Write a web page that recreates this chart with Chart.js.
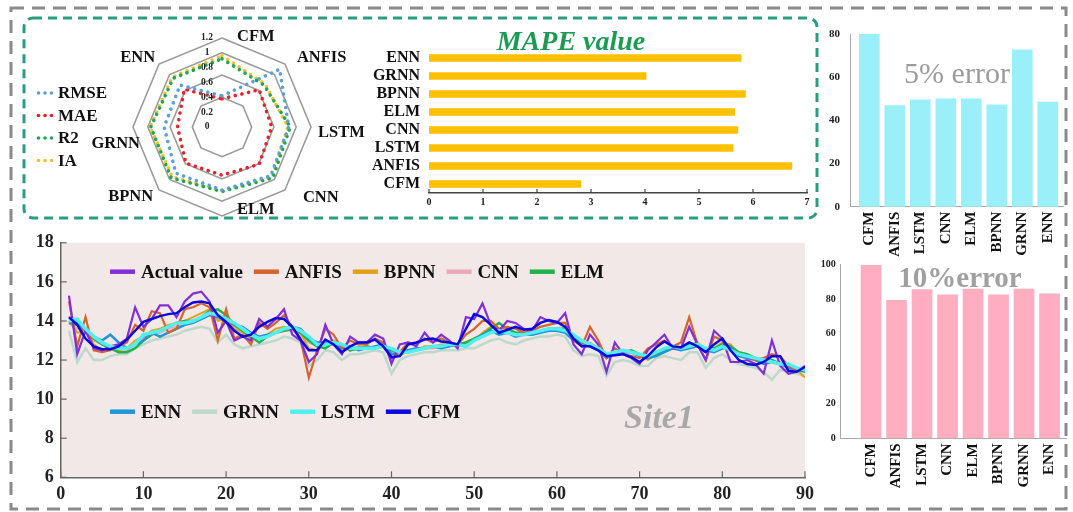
<!DOCTYPE html>
<html><head><meta charset="utf-8">
<script src="https://cdn.jsdelivr.net/npm/chart.js@4.4.1/dist/chart.umd.min.js"></script>
<style>
html,body{margin:0;padding:0;background:#fff;}
body{width:1073px;height:512px;position:relative;overflow:hidden;}
canvas{position:absolute;}
.t{position:absolute;white-space:nowrap;font-family:'Liberation Serif','Times New Roman',serif;line-height:1;transform:translate(-50%,-50%);}
</style></head><body>
<svg width="1073" height="512" style="position:absolute;left:0;top:0">
 <rect x="11" y="8" width="1055" height="501" fill="none" stroke="#8a8a8a" stroke-width="3" stroke-dasharray="13 8"/>
 <rect x="24" y="18" width="793" height="200" rx="9" fill="none" stroke="#2a9d80" stroke-width="3" stroke-dasharray="9 6"/>
</svg>
<canvas id="radar" width="346" height="200" style="left:24px;top:18px"></canvas>
<canvas id="mape" width="445" height="195" style="left:370px;top:20px"></canvas>
<canvas id="p5" width="263" height="250" style="left:810px;top:14px"></canvas>
<canvas id="p10" width="263" height="260" style="left:810px;top:252px"></canvas>
<canvas id="line" width="810" height="287" style="left:10px;top:225px"></canvas>
<div class="t" style="left:571px;top:41px;font-size:28px;font-weight:bold;font-style:italic;color:#1e9a55">MAPE value</div>
<div class="t" style="left:957px;top:73px;font-size:30px;color:#9c9c9c">5% error</div>
<div class="t" style="left:960px;top:277px;font-size:29px;font-weight:bold;color:#a0a0a0">10%error</div>
<div class="t" style="left:659px;top:417px;font-size:34px;font-weight:bold;font-style:italic;color:#a8a8a8">Site1</div>
<script>
// ---------------- DATA ----------------
const models = ['CFM','ANFIS','LSTM','CNN','ELM','BPNN','GRNN','ENN'];
// radar (axes clockwise from top)
const radarAxes = ['CFM','ANFIS','LSTM','CNN','ELM','BPNN','GRNN','ENN'];
const rmseVals = [0.42, 1.10, 0.90, 0.93, 0.85, 0.88, 0.78, 0.80];
const maeVals  = [0.38, 0.71, 0.67, 0.71, 0.65, 0.69, 0.60, 0.72];
const r2Vals   = [0.92, 0.80, 0.92, 0.97, 0.87, 0.97, 0.96, 0.93];
const iaVals   = [0.96, 0.82, 0.89, 0.95, 0.86, 0.95, 0.97, 0.95];
const radarTickLabels = [0, 0.2, 0.4, 0.6, 0.8, 1, 1.2];
const radarRings = [0.4, 0.7, 1.0, 1.2];
// MAPE
const mapeVals = [2.81, 6.72, 5.63, 5.72, 5.66, 5.86, 4.02, 5.78];
const mapeTicks = [0,1,2,3,4,5,6,7];
// accuracy within error bands (%)
const fivePct = [80, 46.8, 49.5, 50, 50, 47.2, 72.7, 48.5];
const tenPct  = [99.4, 79.3, 85.4, 82.5, 85.8, 82.5, 85.8, 83.1];
// time series, days 1..90
const days = Array.from({length:90}, (_, i) => i + 1);
const actualVals = [15.3,12.3,13.5,12.6,12.5,12.7,12.8,13.1,14.7,13.7, 14.1,14.8,14.8,14.2,15.0,15.4,15.5,15.0,13.4,14.0,
 13.0,13.2,13.0,14.1,13.7,14.1,14.6,13.3,13.0,11.9, 12.3,13.8,12.8,12.3,13.2,12.9,12.9,13.3,13.1,11.8,
 12.8,12.9,12.7,13.4,12.9,13.3,13.0,12.6,14.2,14.1, 14.9,13.8,13.5,14.0,13.9,13.6,13.5,14.2,14.0,13.9,
 14.4,12.8,12.3,13.3,12.8,11.4,12.9,12.3,12.1,11.8, 12.5,12.9,13.3,12.6,12.6,13.7,12.8,12.0,13.5,13.1,
 11.9,11.9,12.0,11.8,11.3,13.0,11.7,11.3,11.4,11.7];
const anfisVals = [15.0,12.7,14.2,12.5,12.4,12.5,12.7,12.9,13.8,13.5, 14.5,14.4,13.4,13.6,14.6,14.7,14.9,14.7,13.0,14.6,
 13.1,13.3,12.8,13.9,13.6,13.9,14.3,13.7,13.1,11.1, 12.5,13.6,13.3,12.6,13.0,12.8,12.8,13.1,12.9,12.0,
 12.4,12.9,12.8,13.1,12.9,13.1,12.9,12.8,13.3,13.6, 14.0,14.0,13.6,13.7,13.6,13.4,13.5,13.7,13.8,13.9,
 13.9,13.0,12.7,13.7,13.0,12.1,12.6,12.3,12.2,12.1, 12.6,12.8,13.0,12.7,12.9,14.2,12.8,12.0,13.2,13.0,
 12.5,12.3,12.2,12.0,12.1,12.3,12.2,11.7,11.5,11.5];
const bpnnVals = [14.0,13.4,13.5,12.8,12.5,12.6,12.5,12.6,13.0,13.2, 13.5,13.6,13.8,13.9,14.0,14.2,14.4,14.6,14.0,14.1,
 13.6,13.4,13.1,13.2,13.3,13.6,13.7,13.6,13.4,12.6, 12.5,12.9,13.0,12.8,12.5,12.7,12.6,12.7,12.8,12.3,
 12.2,12.5,12.5,12.7,12.7,12.8,12.8,12.7,12.9,13.0, 13.4,13.7,13.6,13.4,13.3,13.3,13.4,13.5,13.6,13.6,
 13.6,13.1,12.8,12.9,12.6,12.2,12.3,12.4,12.4,12.3, 12.0,12.3,12.5,12.6,12.6,12.8,12.9,12.5,12.6,12.9,
 12.8,12.3,12.2,12.1,12.0,12.0,11.8,11.7,11.5,11.1];
const cnnVals = [13.9,13.6,13.4,13.0,12.8,12.7,12.6,12.5,12.8,13.1, 13.3,13.4,13.6,13.7,13.8,14.0,14.2,14.3,14.1,14.0,
 13.7,13.5,13.2,13.1,13.2,13.4,13.5,13.5,13.3,12.9, 12.7,12.8,12.8,12.7,12.5,12.6,12.6,12.6,12.7,12.4,
 12.3,12.4,12.5,12.6,12.6,12.7,12.7,12.8,12.8,13.0, 13.2,13.4,13.4,13.4,13.3,13.3,13.4,13.5,13.5,13.5,
 13.5,13.2,12.9,12.8,12.6,12.3,12.3,12.4,12.4,12.2, 12.2,12.3,12.5,12.6,12.6,12.7,12.7,12.6,12.5,12.7,
 12.6,12.3,12.2,12.1,12.0,11.9,11.9,11.7,11.6,11.5];
const elmVals = [13.9,13.8,13.5,13.1,12.8,12.6,12.4,12.4,12.6,13.0, 13.3,13.5,13.7,13.9,14.0,14.0,14.2,14.5,14.6,14.3,
 13.8,13.5,13.2,12.9,13.2,13.4,13.5,13.6,13.4,13.0, 12.7,12.6,12.9,12.8,12.5,12.6,12.7,12.6,12.8,12.5,
 12.4,12.4,12.5,12.6,12.7,12.7,12.8,12.8,12.9,13.1, 13.3,13.6,13.9,13.6,13.4,13.4,13.4,13.5,13.6,13.6,
 13.6,13.2,12.9,12.8,12.6,12.3,12.3,12.4,12.5,12.3, 12.2,12.3,12.5,12.6,12.6,12.8,12.8,12.6,12.6,12.8,
 12.7,12.4,12.3,12.1,12.0,12.0,11.8,11.7,11.6,11.5];
const ennVals = [14.0,13.9,13.5,13.2,13.0,13.3,12.9,12.6,12.8,13.0, 13.4,13.2,13.4,13.6,13.8,13.9,14.1,14.3,14.2,14.0,
 13.8,13.7,13.4,13.2,13.3,13.4,13.6,13.7,13.6,13.1, 12.9,12.9,12.8,12.6,12.7,12.5,12.6,12.7,12.8,12.3,
 12.4,12.5,12.6,12.6,12.7,12.6,12.7,12.8,12.7,13.0, 13.3,13.5,13.3,13.4,13.2,13.3,13.3,13.4,13.5,13.5,
 13.4,13.0,12.8,12.7,12.5,12.1,12.3,12.4,12.4,12.2, 12.1,12.2,12.4,12.6,12.5,12.6,12.7,12.5,12.4,12.6,
 12.6,12.2,12.1,12.0,11.8,11.9,11.8,11.6,11.5,11.4];
const grnnVals = [13.5,11.9,12.6,12.0,12.0,12.2,12.3,12.3,12.6,12.8, 13.0,13.1,13.2,13.3,13.5,13.6,13.7,13.6,12.9,13.3,
 12.8,12.6,12.7,12.8,12.9,13.0,13.2,13.1,12.9,11.7, 12.0,12.5,12.4,12.0,12.3,12.3,12.4,12.5,12.4,11.3,
 12.0,12.2,12.3,12.4,12.4,12.5,12.5,12.5,12.6,12.6, 12.8,13.0,13.1,12.9,12.8,13.0,13.1,13.2,13.2,13.3,
 13.2,12.5,12.2,12.3,12.2,11.2,11.9,12.0,11.9,11.7, 11.7,12.1,12.2,12.1,12.0,12.4,12.4,11.6,12.1,12.3,
 12.0,11.8,11.7,11.6,11.4,11.0,11.5,11.4,11.3,11.2];
const lstmVals = [14.0,14.1,13.6,13.2,12.9,12.7,12.6,12.6,12.8,13.3, 13.4,13.5,13.7,13.9,13.9,14.0,14.2,14.4,14.3,14.1,
 13.9,13.6,13.3,13.1,13.2,13.4,13.6,13.7,13.5,13.2, 12.8,12.8,12.9,12.8,12.6,12.6,12.6,12.6,12.7,12.6,
 12.4,12.4,12.5,12.6,12.7,12.7,12.8,12.8,12.7,13.0, 13.2,13.4,13.5,13.4,13.3,13.3,13.4,13.5,13.6,13.6,
 13.5,13.3,13.0,12.8,12.6,12.3,12.4,12.5,12.4,12.3, 12.2,12.4,12.6,12.7,12.6,12.7,12.8,12.6,12.5,12.7,
 12.5,12.3,12.2,12.1,12.0,11.9,11.8,11.8,11.6,11.5];
const cfmVals = [14.2,13.8,13.1,12.7,12.55,12.55,12.7,13.05,13.5,13.95, 14.1,14.25,14.35,14.4,14.7,14.95,15.0,14.9,14.3,13.95,
 13.5,13.2,13.3,13.7,13.95,14.15,14.1,13.7,13.05,12.5, 12.5,13.05,12.8,12.4,12.7,12.9,12.9,13.05,12.7,12.15,
 12.2,12.8,12.9,13.05,13.1,12.95,12.9,12.8,13.6,14.35, 14.2,13.8,13.4,13.55,13.7,13.55,13.6,13.9,14.05,13.95,
 13.7,13.1,12.7,12.7,12.5,12.2,12.25,12.3,12.15,11.9, 12.2,12.65,12.95,12.7,12.65,12.9,12.7,12.4,12.8,13.1,
 12.5,12.0,11.8,11.75,11.9,12.2,12.2,11.45,11.4,11.65];
const xTicks = [0,10,20,30,40,50,60,70,80,90];
const yTicks = [6,8,10,12,14,16,18];

// ---------------- STYLE / HELPERS ----------------
const SERIF = "'Liberation Serif','Times New Roman',serif";
Chart.defaults.font.family = SERIF;
Chart.defaults.animation = false;
Chart.defaults.responsive = false;
Chart.defaults.plugins.legend.display = false;
Chart.defaults.plugins.tooltip.enabled = false;

const inTicks = {
  id: 'inTicks',
  afterDatasetsDraw(chart, args, opts) {
    const ctx = chart.ctx, a = chart.chartArea;
    ctx.save(); ctx.strokeStyle = opts.color || '#444'; ctx.lineWidth = opts.width || 1;
    (opts.axes || []).forEach(ax => {
      const s = chart.scales[ax.id];
      s.ticks.forEach(t => {
        const p = s.getPixelForValue(t.value);
        ctx.beginPath();
        if (s.isHorizontal()) { ctx.moveTo(p, a.bottom); ctx.lineTo(p, a.bottom - ax.len); }
        else { ctx.moveTo(a.left, p); ctx.lineTo(a.left + ax.len, p); }
        ctx.stroke();
      });
    });
    ctx.restore();
  }
};

// ---------------- RADAR ----------------
const radarSeries = [
  {name:'RMSE', values:rmseVals, color:'#5b9fd9'},
  {name:'MAE',  values:maeVals,  color:'#e8202a'},
  {name:'R2',   values:r2Vals,   color:'#1ea653'},
  {name:'IA',   values:iaVals,   color:'#f0c22a'}
];
// label anchor offsets from each outer vertex [dx, dy, align]
const radarLabelOffsets = [[15,-1,'left'],[12,-6,'left'],[7,6,'left'],[18,8,'left'],[15,-6,'left'],[-6,7,'right'],[7,17,'right'],[-4,-6,'right']];
const radarDecor = {
  id: 'radarDecor',
  afterDraw(chart) {
    const s = chart.scales.r, ctx = chart.ctx;
    ctx.save();
    ctx.font = 'bold 9.5px ' + SERIF; ctx.fillStyle = '#222'; ctx.textAlign = 'center'; ctx.textBaseline = 'middle';
    radarTickLabels.forEach(v => {
      const d = s.getDistanceFromCenterForValue(v);
      ctx.fillText(String(v), s.xCenter - 15, s.yCenter - d);
    });
    ctx.font = 'bold 16.5px ' + SERIF; ctx.fillStyle = '#111';
    radarAxes.forEach((name, i) => {
      const p = s.getPointPositionForValue(i, s.max);
      const o = radarLabelOffsets[i];
      ctx.textAlign = o[2];
      ctx.fillText(name, p.x + o[0], p.y + o[1]);
    });
    // legend
    ctx.font = 'bold 17px ' + SERIF; ctx.textAlign = 'left';
    chart.data.datasets.forEach((ds, i) => {
      const y = 75 + i * 22.5;
      ctx.fillStyle = ds.borderColor;
      [14.5, 21, 27.5].forEach(x => { ctx.beginPath(); ctx.arc(x, y, 1.8, 0, Math.PI * 2); ctx.fill(); });
      ctx.fillStyle = '#111';
      ctx.fillText(ds.label, 34, y + 1);
    });
    ctx.restore();
  }
};
new Chart(document.getElementById('radar'), {
  type: 'radar',
  data: { labels: radarAxes, datasets: radarSeries.map(s => ({
    label: s.name, data: s.values, borderColor: s.color, backgroundColor: s.color,
    borderWidth: 3.6, borderDash: [0.01, 6.8], borderCapStyle: 'round', fill: false, pointRadius: 0, tension: 0 })) },
  options: {
    layout: { padding: 0 },
    scales: { r: {
      min: 0, max: 1.2,
      afterBuildTicks: s => { s.ticks = [0].concat(radarRings).map(v => ({ value: v })); },
      afterFit: s => { s.xCenter = 198; s.yCenter = 109; s.drawingArea = 89; },
      ticks: { display: false },
      pointLabels: { display: false },
      angleLines: { display: false },
      grid: { color: c => (c.tick && radarRings.includes(c.tick.value)) ? '#9a9a9a' : 'rgba(0,0,0,0)', lineWidth: 1.6 }
    } }
  },
  plugins: [radarDecor]
});

// ---------------- MAPE ----------------
new Chart(document.getElementById('mape'), {
  type: 'bar',
  data: { labels: models, datasets: [{ data: mapeVals, backgroundColor: '#ffc000', barThickness: 7 }] },
  options: {
    indexAxis: 'y',
    layout: { padding: { left: 0, right: 8, top: 29, bottom: 2 } },
    scales: {
      x: { min: 0, max: 7, afterBuildTicks: a => { a.ticks = mapeTicks.map(v => ({ value: v })); },
           ticks: { font: { size: 10, weight: 'bold' }, color: '#222', padding: 3 },
           grid: { display: false, drawTicks: false }, border: { display: true, color: '#444', width: 1.5 },
           afterFit: a => { a.height = 20; } },
      y: { reverse: true, ticks: { autoSkip: false, font: { size: 16, weight: 'bold' }, color: '#111', padding: 9 },
           grid: { display: false, drawTicks: false }, border: { display: false },
           afterFit: a => { a.width = 59; } }
    },
    plugins: { inTicks: { axes: [{ id: 'x', len: 4 }], color: '#444', width: 1.2 } }
  },
  plugins: [inTicks]
});

// ---------------- ERROR-BAND BARS ----------------
function bandChart(id, vals, color, yMax, xMin, xMax, yAxisW, pad, xAxisH, tickSize, tickPad) {
  new Chart(document.getElementById(id), {
    type: 'bar',
    data: { datasets: [{ data: models.map((m, i) => ({ x: i + 1, y: vals[i] })), backgroundColor: color, barThickness: 20 }] },
    options: {
      layout: { padding: pad },
      scales: {
        x: { type: 'linear', offset: false, min: xMin, max: xMax,
             afterBuildTicks: a => { a.ticks = models.map((m, i) => ({ value: i + 1 })); },
             ticks: { autoSkip: false, minRotation: 90, maxRotation: 90, padding: 5, color: '#111',
                      font: { size: 15, weight: 'bold' }, callback: v => models[Math.round(v) - 1] },
             grid: { display: false, drawTicks: false, offset: false }, border: { color: '#a8a8a8', width: 1 },
             afterFit: a => { a.height = xAxisH; } },
        y: { min: 0, max: yMax, ticks: { stepSize: 20, color: '#222', padding: tickPad, font: { size: tickSize, weight: 'bold' } },
             grid: { display: false, drawTicks: false }, border: { color: '#a8a8a8', width: 1 },
             afterFit: a => { a.width = yAxisW; } }
      }
    }
  });
}
bandChart('p5', fivePct, '#9aeff8', 80, 0.243, 8.596, 40, { left: 0, right: 10, top: 20, bottom: 0 }, 57.3, 11, 10);
bandChart('p10', tenPct, '#ffadc0', 100, -0.19, 8.67, 30.7, { left: 0, right: 6.3, top: 12.3, bottom: 0 }, 73.7, 10, 5);

// ---------------- TIME SERIES ----------------
const lineSeries = [
  { label: 'Actual value', vals: actualVals, color: '#8030d8', w: 2.2, order: 2 },
  { label: 'ANFIS', vals: anfisVals, color: '#d4642c', w: 2.2, order: 3 },
  { label: 'BPNN',  vals: bpnnVals,  color: '#e0a11b', w: 2.0, order: 6 },
  { label: 'CNN',   vals: cnnVals,   color: '#e9a9b9', w: 2.2, order: 7 },
  { label: 'ELM',   vals: elmVals,   color: '#22b24c', w: 2.5, order: 5 },
  { label: 'ENN',   vals: ennVals,   color: '#1e96d8', w: 2.5, order: 4 },
  { label: 'GRNN',  vals: grnnVals,  color: '#bcd9cb', w: 2.5, order: 8 },
  { label: 'LSTM',  vals: lstmVals,  color: '#55eef0', w: 3.5, order: 1 },
  { label: 'CFM',   vals: cfmVals,   color: '#0a0adc', w: 2.5, order: 0 }
];
const plotBg = {
  id: 'plotBg',
  beforeDraw(chart) {
    const a = chart.chartArea, ctx = chart.ctx;
    ctx.save(); ctx.fillStyle = '#f3e8e8'; ctx.fillRect(a.left, a.top, a.width, a.height); ctx.restore();
  }
};
const lineLegend = {
  id: 'lineLegend',
  afterDraw(chart, args, opts) {
    const ctx = chart.ctx;
    ctx.save(); ctx.font = 'bold 19px ' + SERIF; ctx.textBaseline = 'middle'; ctx.textAlign = 'left';
    opts.rows.forEach(row => {
      let x = row.x;
      row.names.forEach(n => {
        const ds = chart.data.datasets.find(d => d.label === n);
        ctx.strokeStyle = ds.borderColor; ctx.lineWidth = 4.5; ctx.lineCap = 'butt';
        ctx.beginPath(); ctx.moveTo(x, row.y); ctx.lineTo(x + 25, row.y); ctx.stroke();
        ctx.fillStyle = '#111'; ctx.fillText(n, x + 31, row.y + 1);
        x += 31 + ctx.measureText(n).width + 11;
      });
    });
    ctx.restore();
  }
};
new Chart(document.getElementById('line'), {
  type: 'line',
  data: { datasets: lineSeries.map(s => ({
    label: s.label, data: days.map((d, i) => ({ x: d, y: s.vals[i] })),
    borderColor: s.color, backgroundColor: s.color, borderWidth: s.w, pointRadius: 0, tension: 0, fill: false, order: s.order })) },
  options: {
    layout: { padding: { left: 0, right: 14.3, top: 10, bottom: 4.7 } },
    scales: {
      x: { type: 'linear', min: 0, max: 90, afterBuildTicks: a => { a.ticks = xTicks.map(v => ({ value: v })); },
           ticks: { font: { size: 18, weight: 'bold' }, color: '#222', padding: 6 },
           grid: { display: false, drawTicks: false }, border: { color: '#666', width: 1.5 },
           afterFit: a => { a.height = 30; } },
      y: { min: 6, max: 18, afterBuildTicks: a => { a.ticks = yTicks.map(v => ({ value: v })); },
           ticks: { font: { size: 18, weight: 'bold' }, color: '#222', padding: 7 },
           grid: { display: false, drawTicks: false }, border: { color: '#666', width: 1.5 },
           afterFit: a => { a.width = 50.7; } }
    },
    plugins: {
      inTicks: { axes: [{ id: 'x', len: 6 }, { id: 'y', len: 6 }], color: '#666', width: 1.2 },
      lineLegend: { rows: [
        { x: 100, y: 46.7, names: ['Actual value', 'ANFIS', 'BPNN', 'CNN', 'ELM'] },
        { x: 100, y: 186.7, names: ['ENN', 'GRNN', 'LSTM', 'CFM'] }
      ] }
    }
  },
  plugins: [plotBg, inTicks, lineLegend]
});
</script>
</body></html>
